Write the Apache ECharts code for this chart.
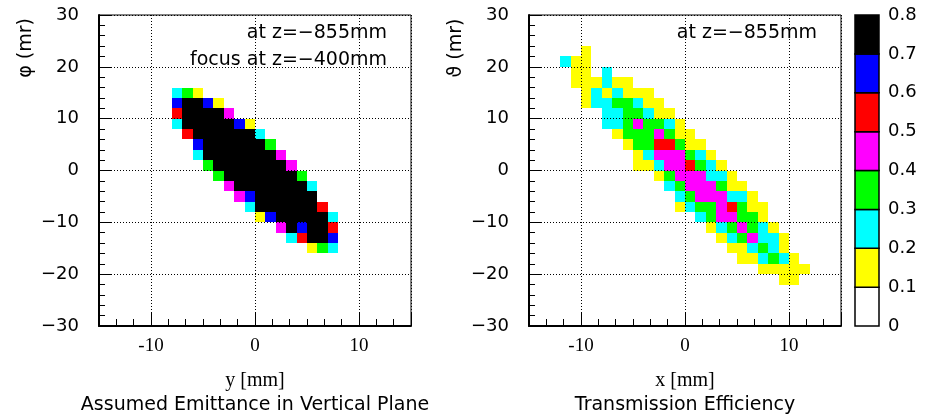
<!DOCTYPE html>
<html><head><meta charset="utf-8">
<script src="https://cdn.jsdelivr.net/npm/echarts@6/dist/echarts.min.js"></script>
<style>html,body{margin:0;padding:0;background:#fff}#c{width:927px;height:419px}</style>
</head><body><div id="c"></div>
<script>
// colour scale (boundaries and colours of the palette)
const levels = [0, 0.1, 0.2, 0.3, 0.4, 0.5, 0.6, 0.7, 0.8];
const levelColors = ['#ffffff', '#ffff00', '#00ffff', '#00ff00', '#ff00ff', '#ff0000', '#0000ff', '#000000'];

// Left panel: assumed emittance. Cells are 1 mm x 2 mr.
// row centre (mr), left edge of first cell (mm), cell values
const emitRowY  = [15, 13, 11, 9, 7, 5, 3, 1, -1, -3, -5, -7, -9, -11, -13, -15];
const emitRowX0 = [-8, -8, -8, -8, -7, -6, -6, -5, -4, -3, -2, -1, 0, 2, 3, 5];
const emitRowVals = [
  [0.25, 0.35, 0.15],
  [0.65, 0.75, 0.75, 0.65, 0.15],
  [0.55, 0.75, 0.75, 0.75, 0.75, 0.45],
  [0.25, 0.75, 0.75, 0.75, 0.75, 0.75, 0.65, 0.15],
  [0.55, 0.75, 0.75, 0.75, 0.75, 0.75, 0.75, 0.25],
  [0.65, 0.75, 0.75, 0.75, 0.75, 0.75, 0.75, 0.35],
  [0.25, 0.75, 0.75, 0.75, 0.75, 0.75, 0.75, 0.75, 0.45],
  [0.35, 0.75, 0.75, 0.75, 0.75, 0.75, 0.75, 0.75, 0.45],
  [0.35, 0.75, 0.75, 0.75, 0.75, 0.75, 0.75, 0.75, 0.35],
  [0.45, 0.75, 0.75, 0.75, 0.75, 0.75, 0.75, 0.75, 0.25],
  [0.45, 0.65, 0.75, 0.75, 0.75, 0.75, 0.75, 0.75],
  [0.25, 0.75, 0.75, 0.75, 0.75, 0.75, 0.75, 0.55],
  [0.15, 0.65, 0.75, 0.75, 0.75, 0.75, 0.75, 0.25],
  [0.45, 0.75, 0.65, 0.75, 0.75, 0.55],
  [0.25, 0.55, 0.75, 0.75, 0.65],
  [0.15, 0.35, 0.25]
];

// Right panel: transmission efficiency
const transRowY  = [23, 21, 19, 17, 15, 13, 11, 9, 7, 5, 3, 1, -1, -3, -5, -7, -9, -11, -13, -15, -17, -19, -21];
const transRowX0 = [-10, -12, -11, -11, -10, -10, -8, -8, -7, -6, -5, -5, -3, -2, -1, -1, 1, 2, 3, 4, 5, 7, 9];
const transRowVals = [
  [0.15],
  [0.25, 0.15, 0.15],
  [0.15, 0.15, null, 0.25],
  [0.15, 0.15, 0.15, 0.25, 0.15, 0.15],
  [0.15, 0.25, 0.15, 0.25, 0.15, 0.15, 0.15],
  [0.15, 0.25, 0.25, 0.35, 0.35, 0.25, 0.15, 0.15],
  [0.25, 0.25, 0.35, 0.35, 0.25, 0.15, 0.15],
  [0.25, 0.25, 0.35, 0.45, 0.35, 0.35, 0.25, 0.15],
  [0.15, 0.35, 0.35, 0.35, 0.45, 0.35, 0.15, 0.15],
  [0.15, 0.35, 0.35, 0.55, 0.55, 0.35, 0.15, 0.15],
  [0.15, 0.25, 0.45, 0.45, 0.45, 0.35, 0.25, 0.15],
  [0.15, 0.15, 0.25, 0.45, 0.45, 0.55, 0.35, 0.25, 0.15],
  [0.15, 0.35, 0.45, 0.45, 0.45, 0.25, 0.25, 0.15],
  [0.25, 0.35, 0.45, 0.45, 0.45, 0.35, 0.15, 0.15],
  [0.25, 0.35, 0.45, 0.45, 0.45, 0.25, 0.25, 0.15],
  [0.15, 0.25, 0.35, 0.35, 0.45, 0.55, 0.35, 0.15, 0.15],
  [0.25, 0.35, 0.45, 0.45, 0.35, 0.35, 0.15],
  [0.15, 0.25, 0.35, 0.45, 0.35, 0.25, 0.15],
  [0.15, 0.25, 0.35, 0.45, 0.25, 0.25, 0.15],
  [0.15, 0.15, 0.25, 0.35, 0.25, 0.15],
  [0.15, 0.15, 0.25, 0.35, 0.25, 0.15],
  [0.15, 0.15, 0.15, 0.15, 0.15],
  [0.15, 0.15]
];

const CELL_W = 1, CELL_H = 2;

function buildCells(rowY, rowX0, rowVals) {
  const out = [];
  rowY.forEach((y, i) => {
    rowVals[i].forEach((v, k) => {
      if (v !== null) out.push([rowX0[i] + k * CELL_W, y, v]);
    });
  });
  return out;
}

function renderCell(params, api) {
  const x = api.value(0), y = api.value(1);
  const a = api.coord([x, y + CELL_H / 2]);
  const b = api.coord([x + CELL_W, y - CELL_H / 2]);
  const x0 = Math.round(a[0]), y0 = Math.round(a[1]);
  const x1 = Math.round(b[0]), y1 = Math.round(b[1]);
  return {
    type: 'rect',
    shape: { x: x0, y: y0, width: x1 - x0, height: y1 - y0 },
    style: { fill: api.visual('color') }
  };
}

function renderBarCell(params, api) {
  const i = api.value(0);
  const a = api.coord([0, levels[i + 1]]);
  const b = api.coord([1, levels[i]]);
  return {
    type: 'rect',
    shape: { x: a[0], y: a[1], width: b[0] - a[0], height: b[1] - a[1] },
    style: { fill: levelColors[i], stroke: '#000', lineWidth: 1.5 }
  };
}

const SANS = 'DejaVu Sans';
const SERIF = 'Liberation Serif';

function xAxisCfg(gi) {
  return {
    type: 'value', gridIndex: gi, min: -15, max: 15, splitNumber: 3, z: 5,
    axisLine: { show: true, onZero: false, lineStyle: { color: '#000', width: 2 } },
    axisTick: { show: true, inside: true, length: 14, lineStyle: { color: '#000', width: 1 } },
    minorTick: { show: true, splitNumber: 6, length: 7, lineStyle: { color: '#000', width: 1 } },
    splitLine: { show: true, lineStyle: { color: '#000', width: 1, type: [1, 2] } },
    axisLabel: {
      color: '#000', fontFamily: SERIF, fontSize: 19, margin: 11,
      formatter: v => (Math.abs(v) === 15 ? '' : (v < 0 ? '-' + Math.abs(v) : String(v)))
    }
  };
}
function yAxisCfg(gi) {
  return {
    type: 'value', gridIndex: gi, min: -30, max: 30, interval: 10, z: 5,
    axisLine: { show: true, onZero: false, lineStyle: { color: '#000', width: 2 } },
    axisTick: { show: true, inside: true, length: 12, lineStyle: { color: '#000', width: 1 } },
    minorTick: { show: true, splitNumber: 5, length: 6, lineStyle: { color: '#000', width: 1 } },
    splitLine: { show: true, lineStyle: { color: '#000', width: 1, type: [1, 2] } },
    axisLabel: {
      color: '#000', fontFamily: SANS, fontSize: 18, margin: 20,
      formatter: v => (v < 0 ? '\u2212' + Math.abs(v) : String(v))
    }
  };
}

const pieces = levelColors.map((c, i) => (i === levelColors.length - 1
  ? { gte: levels[i], lte: levels[i + 1], color: c }
  : { gte: levels[i], lt: levels[i + 1], color: c }));

function txt(x, y, text, opts) {
  return Object.assign({
    type: 'text', x: x, y: y, silent: true,
    style: Object.assign({ text: text, fill: '#000', fontFamily: SANS, fontSize: 19,
      align: 'center', verticalAlign: 'middle' }, opts && opts.style)
  }, opts && opts.el);
}

const chart = echarts.init(document.getElementById('c'), null, { renderer: 'canvas' });
chart.setOption({
  animation: false,
  backgroundColor: '#fff',
  grid: [
    { left: 99, top: 15, width: 312, height: 311, show: true, borderColor: '#000', borderWidth: 1, backgroundColor: 'transparent' },
    { left: 529, top: 15, width: 312, height: 311, show: true, borderColor: '#000', borderWidth: 1, backgroundColor: 'transparent' },
    { left: 855, top: 15, width: 24, height: 311 }
  ],
  xAxis: [
    xAxisCfg(0), xAxisCfg(1),
    { type: 'value', gridIndex: 2, min: 0, max: 1, show: false }
  ],
  yAxis: [
    yAxisCfg(0), yAxisCfg(1),
    { type: 'value', gridIndex: 2, min: 0, max: 0.8, interval: 0.1, position: 'right',
      axisLine: { show: false }, axisTick: { show: false }, splitLine: { show: false },
      axisLabel: { color: '#000', fontFamily: SANS, fontSize: 18, margin: 9,
        formatter: v => (v === 0 ? '0' : v.toFixed(1)) } }
  ],
  visualMap: {
    type: 'piecewise', show: false, dimension: 2, seriesIndex: [0, 1], pieces: pieces
  },
  series: [
    { type: 'custom', xAxisIndex: 0, yAxisIndex: 0, renderItem: renderCell, silent: true,
      encode: { x: 0, y: 1 }, data: buildCells(emitRowY, emitRowX0, emitRowVals), z: 2 },
    { type: 'custom', xAxisIndex: 1, yAxisIndex: 1, renderItem: renderCell, silent: true,
      encode: { x: 0, y: 1 }, data: buildCells(transRowY, transRowX0, transRowVals), z: 2 },
    { type: 'custom', xAxisIndex: 2, yAxisIndex: 2, renderItem: renderBarCell, silent: true,
      encode: { x: 0 }, data: levelColors.map((c, i) => [i]), z: 2 }
  ],
  graphic: [
    txt(387, 33, 'at z=\u2212855mm', { style: { align: 'right' } }),
    txt(387, 60, 'focus at z=\u2212400mm', { style: { align: 'right' } }),
    txt(817, 33, 'at z=\u2212855mm', { style: { align: 'right' } }),
    txt(26, 48, '\u03c6 (mr)', { el: { rotation: Math.PI / 2 } }),
    txt(456, 48, '\u03d1 (mr)', { el: { rotation: Math.PI / 2 } }),
    txt(255, 381, 'y [mm]', { style: { fontFamily: SERIF, fontSize: 20 } }),
    txt(685, 381, 'x [mm]', { style: { fontFamily: SERIF, fontSize: 20 } }),
    txt(255, 405, 'Assumed Emittance in Vertical Plane'),
    txt(685, 405, 'Transmission Efficiency')
  ]
});
</script></body></html>
